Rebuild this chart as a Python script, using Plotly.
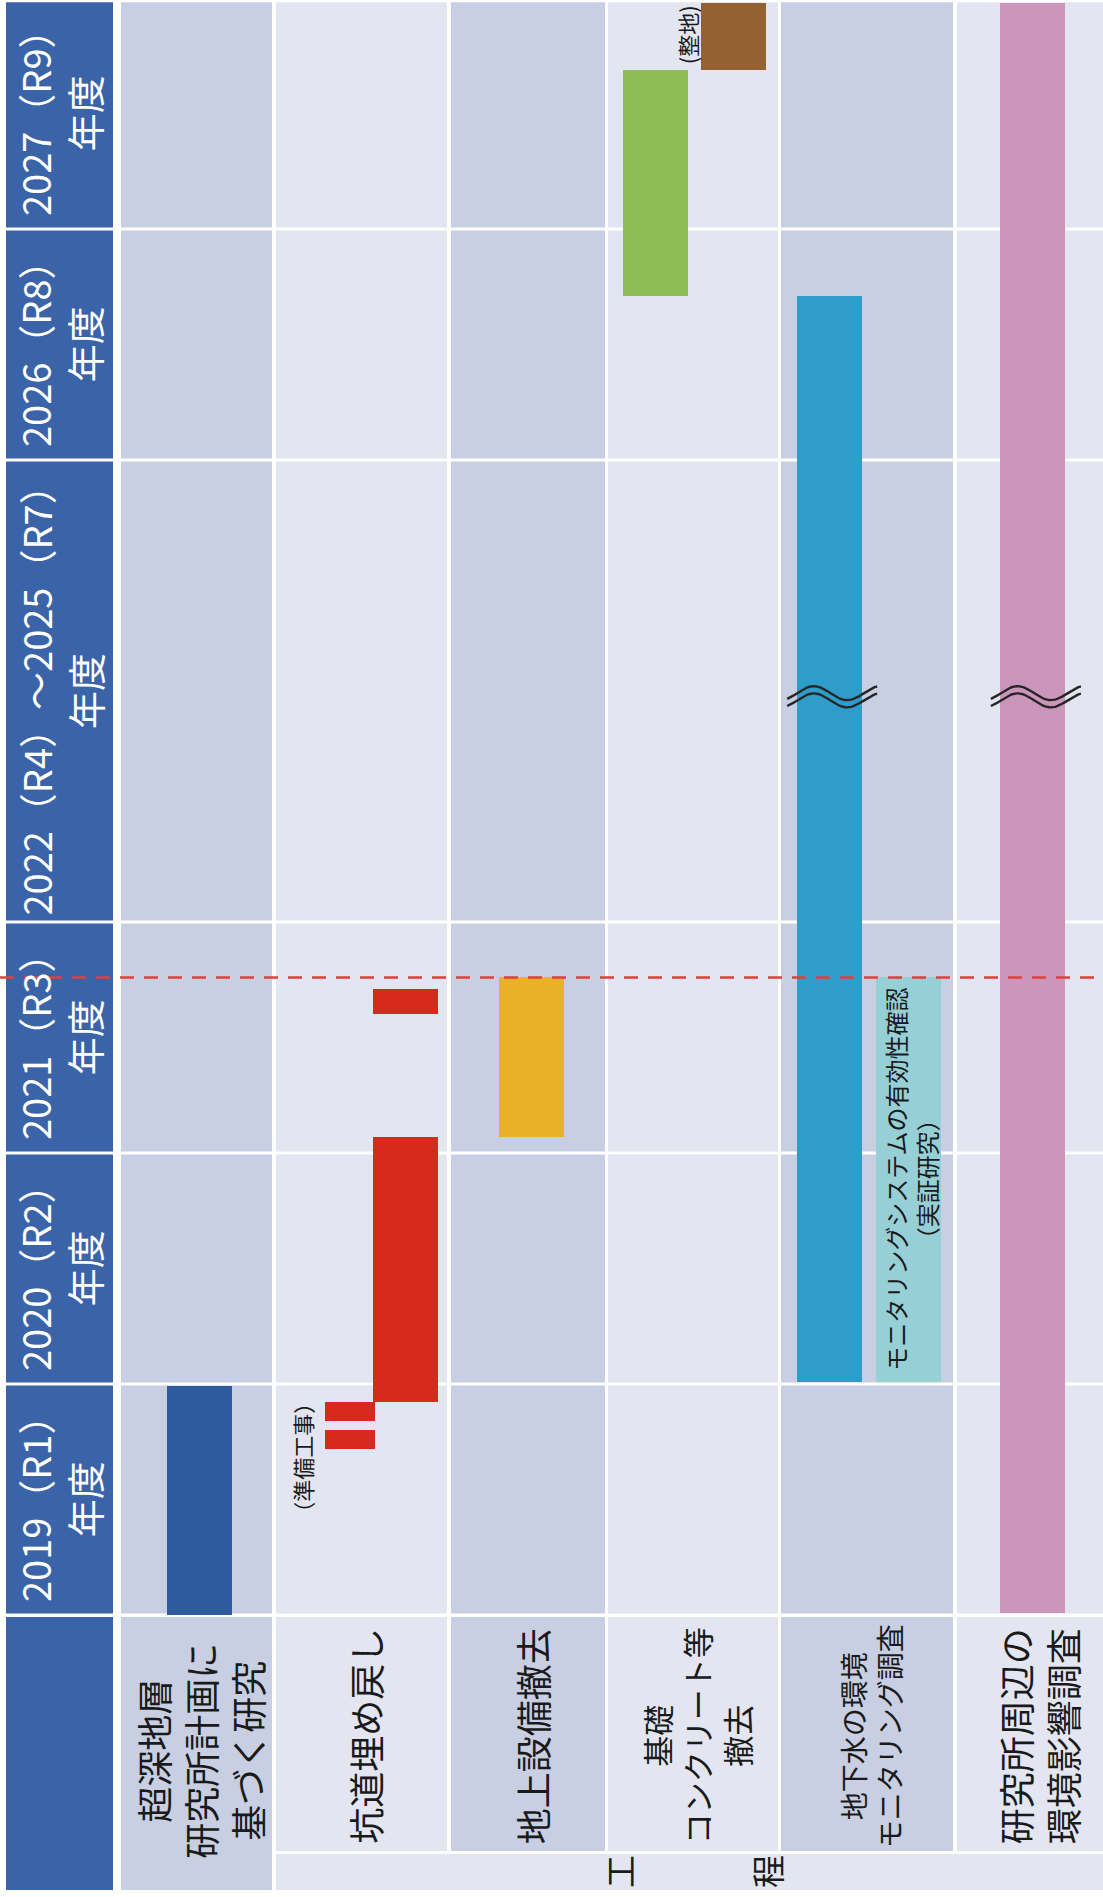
import numpy as np
import plotly.graph_objects as go

# ---------------- data ----------------
# fiscal-year rows (FY starts in April); 2022-2025 share one compressed row
YEAR_LABELS = ["2019（R1）<br>年度", "2020（R2）<br>年度", "2021（R3）<br>年度",
               "2022（R4）～2025（R7）<br>年度", "2026（R8）<br>年度", "2027（R9）<br>年度"]
YEAR_START = [2019, 2020, 2021, 2022, 2026, 2027]
YEAR_END = [2020, 2021, 2022, 2026, 2027, 2028]

# work items, one column each
ITEMS = ["超深地層<br>研究所計画に<br>基づく研究", "坑道埋め戻し", "地上設備撤去",
         "基礎<br>コンクリート等<br>撤去", "地下水の環境<br>モニタリング調査",
         "研究所周辺の<br>環境影響調査"]

# schedule bars (start / end in fiscal years)
BAR_ITEM = [0, 1, 1, 1, 1, 2, 3, 3, 4, 4, 5]
BAR_LANE = ["single", "pre", "pre", "main", "main", "single",
            "left", "right", "left", "right", "single"]
BAR_START = [2019.00, 2019.72, 2019.84, 2019.92, 2021.60, 2021.07,
             2026.71, 2027.69, 2020.01, 2020.01, 2019.01]
BAR_END = [2019.99, 2019.80, 2019.92, 2021.07, 2021.71, 2021.76,
           2027.69, 2027.98, 2026.71, 2021.76, 2027.98]
BAR_COLOR = ["#2f5a9e", "#d62a1e", "#d62a1e", "#d62a1e", "#d62a1e", "#e9b127",
             "#8cbc53", "#946231", "#2f9dca", "#97cfd7", "#cc95bb"]

NOTE_TEXT = ["（準備工事）", "(整地)", "モニタリングシステムの有効性確認<br>（実証研究）"]
NOTE_AT = [2019.975, 2027.975, 2020.885]

TODAY = 2021.76          # progress line
BREAK_AT = 2023.95       # axis break drawn on the long-running bars
BREAK_ITEMS = [4, 5]

# ---------------- layout geometry ----------------
W, H = 1103, 1897
HEADER = (6, 113)
COLS = [(121, 272), (276, 447), (451, 605), (608, 778), (781, 953), (957, 1103)]
LANE = {"single": (0.52, 65), "pre": (0.43, 50), "main": (0.76, 65),
        "left": (0.28, 65), "right": (0.74, 65)}
ITEM_FONT = [36, 36, 36, 31, 28, 36]

HEADER_BLUE = "#3b63a8"
CELL_DARK = "#c8cfe3"
CELL_LIGHT = "#e3e6f1"
TEXT = "#1a1a1a"
CJK = "Noto Sans CJK JP"

Y_RANGE = [-1.2208, 6.9913]
LABEL_ROW = (-1.0216, -0.0087)
PROCESS_ROW = (-1.1905, -1.0346)
GAP = 0.0065


def pos(fy):
    """Map fiscal year onto the broken time axis (2022-2025 compressed 2:1)."""
    fy = np.asarray(fy, dtype=float)
    return np.where(fy < 2022, fy - 2019,
                    np.where(fy < 2026, 3 + (fy - 2022) / 2, fy - 2021))


fig = go.Figure()
shapes = []
annotations = []


def rect(x0, x1, y0, y1, color):
    shapes.append(dict(type="rect", xref="x", yref="y", x0=x0, x1=x1, y0=y0, y1=y1,
                       fillcolor=color, line=dict(width=0), layer="below"))


# grid cells for every year row
for i, (ys, ye) in enumerate(zip(YEAR_START, YEAR_END)):
    t0 = float(pos(ys)) + GAP
    t1 = min(float(pos(ye)) - GAP, 6.982)
    rect(HEADER[0], HEADER[1], t0, t1, HEADER_BLUE)
    for c, (x0, x1) in enumerate(COLS):
        rect(x0, x1, t0, t1, CELL_DARK if c % 2 == 0 else CELL_LIGHT)
    annotations.append(dict(
        x=(HEADER[0] + HEADER[1]) / 2, y=(float(pos(ys)) + float(pos(ye))) / 2,
        xref="x", yref="y", text=YEAR_LABELS[i], showarrow=False, textangle=-90,
        font=dict(family="Liberation Sans Narrow, " + CJK, size=38, color="white")))

# item label row
rect(HEADER[0], HEADER[1], PROCESS_ROW[0], LABEL_ROW[1], HEADER_BLUE)
for c, (x0, x1) in enumerate(COLS):
    bottom = PROCESS_ROW[0] if c == 0 else LABEL_ROW[0]
    rect(x0, x1, bottom, LABEL_ROW[1], CELL_DARK if c % 2 == 0 else CELL_LIGHT)
    annotations.append(dict(
        x=(x0 + x1) / 2 + (4 if c < 5 else 8),
        y=-0.59 if c == 0 else -0.525,
        xref="x", yref="y", text=ITEMS[c], showarrow=False, textangle=-90,
        font=dict(family=CJK, size=ITEM_FONT[c], color=TEXT)))
rect(COLS[1][0], COLS[-1][1], PROCESS_ROW[0], PROCESS_ROW[1], CELL_LIGHT)
for ch, xc in (("工", 619), ("程", 767)):
    annotations.append(dict(x=xc, y=sum(PROCESS_ROW) / 2, xref="x", yref="y",
                            text=ch, showarrow=False, textangle=-90,
                            font=dict(family=CJK, size=33, color=TEXT)))

# schedule bars
bar_x, bar_w = [], []
for item, lane in zip(BAR_ITEM, BAR_LANE):
    x0, x1 = COLS[item]
    frac, width = LANE[lane]
    bar_x.append(x0 + frac * (x1 - x0))
    bar_w.append(width)
b0 = pos(BAR_START)
b1 = pos(BAR_END)
fig.add_trace(go.Bar(x=bar_x, y=b1 - b0, base=b0, width=bar_w,
                     marker=dict(color=BAR_COLOR, line=dict(width=0)),
                     hoverinfo="skip", showlegend=False))

# bar notes
note_x = [302, 687, bar_x[9] + 2]
note_size = [22, 22, 24]
for k in range(3):
    annotations.append(dict(x=note_x[k], y=float(pos(NOTE_AT[k])),
                            yanchor="top" if k < 2 else "middle",
                            xref="x", yref="y", text=NOTE_TEXT[k], showarrow=False,
                            textangle=-90,
                            font=dict(family=CJK, size=note_size[k], color=TEXT)))

# progress line
shapes.append(dict(type="line", xref="x", yref="y", x0=0, x1=W,
                   y0=float(pos(TODAY)), y1=float(pos(TODAY)),
                   line=dict(color="#e0403c", width=2.5, dash="14px,10px"), layer="above"))

# axis-break marks (double wave) across the long bars
theta = np.linspace(-0.3 * np.pi, 2.4 * np.pi, 60)
wave = np.sin(theta) * 7.0 / 231
tb = float(pos(BREAK_AT))
for k in BREAK_ITEMS:
    idx = BAR_ITEM.index(k)
    xc = bar_x[idx] + 3
    xs = np.linspace(xc - 45, xc + 45, theta.size)
    for off in (-3.6 / 231, 3.6 / 231):
        fig.add_trace(go.Scatter(x=xs, y=tb + wave + off, mode="lines",
                                 line=dict(color="#262626", width=2.4),
                                 hoverinfo="skip", showlegend=False))

fig.update_layout(
    width=W, height=H, autosize=False,
    margin=dict(l=0, r=0, t=0, b=0, pad=0),
    paper_bgcolor="white", plot_bgcolor="white",
    barmode="overlay", bargap=0,
    xaxis=dict(range=[0, W], visible=False, fixedrange=True),
    yaxis=dict(range=Y_RANGE, visible=False, fixedrange=True),
    shapes=shapes, annotations=annotations,
)

fig.write_html("out.html")
